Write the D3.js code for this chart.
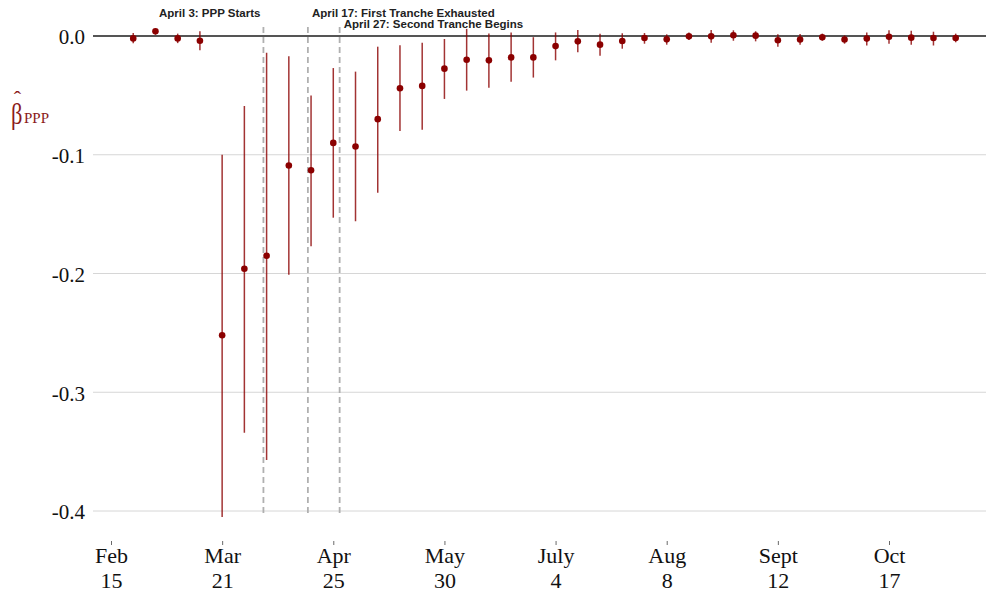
<!DOCTYPE html>
<html>
<head>
<meta charset="utf-8">
<script src="https://cdn.jsdelivr.net/npm/d3@7"></script>
<style>
  body { margin: 0; background: #fff; }
  svg { display: block; }
</style>
</head>
<body>
<div id="chart"></div>
<script>
// weekly estimates, week ending dates (2020)
const weeks = ["2020-02-22","2020-02-29","2020-03-07","2020-03-14","2020-03-21","2020-03-28",
  "2020-04-04","2020-04-11","2020-04-18","2020-04-25","2020-05-02","2020-05-09","2020-05-16",
  "2020-05-23","2020-05-30","2020-06-06","2020-06-13","2020-06-20","2020-06-27","2020-07-04",
  "2020-07-11","2020-07-18","2020-07-25","2020-08-01","2020-08-08","2020-08-15","2020-08-22",
  "2020-08-29","2020-09-05","2020-09-12","2020-09-19","2020-09-26","2020-10-03","2020-10-10",
  "2020-10-17","2020-10-24","2020-10-31","2020-11-07"];
const estimate = [-0.002, 0.004, -0.002, -0.004, -0.252, -0.196, -0.185, -0.109, -0.113, -0.090,
  -0.093, -0.070, -0.044, -0.042, -0.0275, -0.020, -0.0205, -0.018, -0.018, -0.0085,
  -0.0045, -0.0073, -0.0042, -0.0017, -0.0028, -0.0003, -0.0003, 0.0006, 0.0003, -0.0036,
  -0.003, -0.0011, -0.003, -0.0022, -0.0006, -0.0014, -0.0017, -0.0017];
const ciLow = [-0.006, 0.001, -0.006, -0.012, -0.405, -0.334, -0.357, -0.201, -0.177, -0.153,
  -0.156, -0.132, -0.080, -0.079, -0.053, -0.046, -0.0435, -0.0385, -0.035, -0.0205,
  -0.0137, -0.0166, -0.0107, -0.0065, -0.0073, -0.0034, -0.0056, -0.004, -0.0045, -0.009,
  -0.0073, -0.004, -0.0065, -0.008, -0.0065, -0.0073, -0.008, -0.0053];
const ciHigh = [0.0025, 0.006, 0.002, 0.004, -0.100, -0.059, -0.014, -0.017, -0.050, -0.027,
  -0.030, -0.009, -0.0078, -0.0056, -0.0025, 0.006, 0.0022, 0.003, -0.001, 0.003,
  0.005, 0.002, 0.0023, 0.0025, 0.0014, 0.003, 0.005, 0.0048, 0.004, 0.0014,
  0.0017, 0.002, 0.0005, 0.003, 0.0048, 0.0045, 0.0036, 0.002];

const tickDates = ["2020-02-15","2020-03-21","2020-04-25","2020-05-30","2020-07-04","2020-08-08","2020-09-12","2020-10-17"];
const tickMonths = ["Feb","Mar","Apr","May","July","Aug","Sept","Oct"];
const tickDays = ["15","21","25","30","4","8","12","17"];
const yTicks = [0, -0.1, -0.2, -0.3, -0.4];

const eventDates = ["2020-04-03","2020-04-17","2020-04-27"];
const eventLabels = ["April 3: PPP Starts","April 17: First Tranche Exhausted","April 27: Second Tranche Begins"];

const parse = d3.timeParse("%Y-%m-%d");
const data = weeks.map((w, i) => ({ date: parse(w), est: estimate[i], lo: ciLow[i], hi: ciHigh[i] }));

const width = 986, height = 592;
const panel = { left: 93, right: 986, top: 27, bottom: 517 };
const red = "#8b0000";
const serif = "'Liberation Serif', 'Times New Roman', Times, serif";

const svg = d3.select("#chart").append("svg")
  .attr("width", width).attr("height", height);

const x = d3.scaleTime()
  .domain([parse(tickDates[0]), parse(tickDates[tickDates.length - 1])])
  .range([111, 889]);
const y = d3.scaleLinear().domain([-0.4, 0]).range([511, 36]);

// grid
svg.append("g").selectAll("line")
  .data(yTicks.filter(d => d !== 0))
  .join("line")
  .attr("x1", panel.left).attr("x2", panel.right)
  .attr("y1", d => y(d)).attr("y2", d => y(d))
  .attr("stroke", "#d6d6d6").attr("stroke-width", 1);

// event lines
svg.append("g").selectAll("line")
  .data(eventDates)
  .join("line")
  .attr("x1", d => x(parse(d))).attr("x2", d => x(parse(d)))
  .attr("y1", panel.top).attr("y2", panel.bottom)
  .attr("stroke", "#b0b0b0").attr("stroke-width", 1.8)
  .attr("stroke-dasharray", "6,4");

// zero line
svg.append("line")
  .attr("x1", panel.left).attr("x2", panel.right)
  .attr("y1", y(0)).attr("y2", y(0))
  .attr("stroke", "#555").attr("stroke-width", 1.8);

// event labels
const evText = svg.append("g")
  .attr("font-family", "'Liberation Sans', Arial, sans-serif")
  .attr("font-weight", "bold").attr("font-size", "11.5px").attr("fill", "#222");
evText.append("text")
  .attr("x", x(parse(eventDates[0])) - 3).attr("y", 17)
  .attr("text-anchor", "end").text(eventLabels[0]);
evText.append("text")
  .attr("x", x(parse(eventDates[1])) + 4).attr("y", 17)
  .text(eventLabels[1]);
evText.append("text")
  .attr("x", x(parse(eventDates[2])) + 4).attr("y", 28)
  .text(eventLabels[2]);

// error bars
svg.append("g").selectAll("line")
  .data(data)
  .join("line")
  .attr("x1", d => x(d.date)).attr("x2", d => x(d.date))
  .attr("y1", d => y(d.hi)).attr("y2", d => y(d.lo))
  .attr("stroke", red).attr("stroke-width", 1.5).attr("stroke-opacity", 0.8);

svg.append("g").selectAll("circle")
  .data(data)
  .join("circle")
  .attr("cx", d => x(d.date)).attr("cy", d => y(d.est))
  .attr("r", 3.3).attr("fill", red);

// y axis
const yAxis = svg.append("g")
  .attr("transform", `translate(${panel.left},0)`)
  .call(d3.axisLeft(y).tickValues(yTicks).tickSize(0).tickPadding(8)
    .tickFormat(d => d.toFixed(1)));
yAxis.select(".domain").remove();
yAxis.selectAll("text")
  .attr("dy", "0.38em")
  .style("font-family", serif)
  .style("font-size", "21px").attr("fill", "#111");

// x axis
const xAxis = svg.append("g")
  .attr("transform", "translate(0,541)")
  .call(d3.axisBottom(x).tickValues(tickDates.map(parse)).tickSize(4).tickFormat(""));
xAxis.select(".domain").remove();
xAxis.selectAll(".tick line").attr("stroke", "#444").attr("stroke-width", 0.8);
xAxis.selectAll(".tick").each(function(d, i) {
  const t = d3.select(this).append("text")
    .attr("text-anchor", "middle")
    .style("font-family", serif)
    .style("font-size", "22px").attr("fill", "#111");
  t.append("tspan").attr("x", 0).attr("y", 22).text(tickMonths[i]);
  t.append("tspan").attr("x", 0).attr("y", 47).text(tickDays[i]);
});

// y label: beta hat PPP
const yl = svg.append("g")
  .style("font-family", serif)
  .attr("fill", "#8b1a1a");
yl.append("text").attr("transform", "translate(11,124) scale(0.75,1)")
  .style("font-size", "30px").text("β");
yl.append("text").attr("x", 17.5).attr("y", 106).attr("text-anchor", "middle")
  .style("font-size", "22px").text("ˆ");
yl.append("text").attr("x", 24).attr("y", 123).style("font-size", "15px").text("PPP");
</script>
</body>
</html>
